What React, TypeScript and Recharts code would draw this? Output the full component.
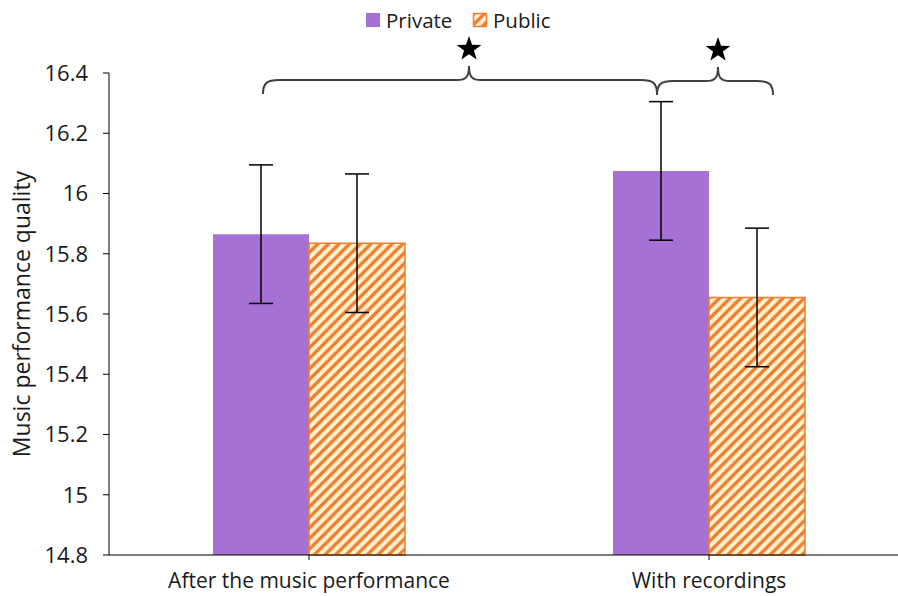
import React from "react";
import { BarChart, Bar, XAxis, YAxis, ErrorBar } from "recharts";

const categories = ["After the music performance", "With recordings"];
const privateMeans = [15.865, 16.075];
const publicMeans = [15.835, 15.655];
const privateErr = [0.23, 0.23];
const publicErr = [0.23, 0.23];
const yTicks = [14.8, 15, 15.2, 15.4, 15.6, 15.8, 16, 16.2, 16.4];

const data = categories.map((name, i) => ({
  name,
  private: privateMeans[i],
  privateErr: privateErr[i],
  public: publicMeans[i],
  publicErr: publicErr[i],
}));

const FONT = "'Open Sans', Lato, sans-serif";
const INK = "#1a1a1a";
const PURPLE = "#A571D4";
const ORANGE = "#ED7D31";
const CREAM = "#FFF2CC";

// five-pointed star around a centre point
const starPoints = (cx: number, cy: number, R: number, r: number) => {
  const pts: string[] = [];
  for (let k = 0; k < 10; k++) {
    const rad = k % 2 === 0 ? R : r;
    const a = -Math.PI / 2 + (k * Math.PI) / 5;
    pts.push(`${cx + rad * Math.cos(a)},${cy + rad * Math.sin(a)}`);
  }
  return pts.join(" ");
};

// curly brace lying on its back, pointing up at xt
const bracePath = (x1: number, x2: number, xt: number, y: number) => {
  const h = 14;
  return [
    `M${x1},${y + h} C${x1},${y + 3} ${x1 + 4},${y} ${x1 + 16},${y}`,
    `L${xt - 12},${y} C${xt - 3},${y} ${xt},${y - 3} ${xt},${y - h}`,
    `M${xt},${y - h} C${xt},${y - 3} ${xt + 3},${y} ${xt + 12},${y}`,
    `L${x2 - 16},${y} C${x2 - 4},${y} ${x2},${y + 3} ${x2},${y + h}`,
  ].join(" ");
};

const Overlay = () => (
  <svg
    width={898}
    height={596}
    style={{ position: "absolute", left: 0, top: 0, pointerEvents: "none" }}
  >
    {/* legend */}
    <rect x={366} y={13} width={14} height={14} fill={PURPLE} />
    <text x={386} y={27.5} fontSize={20.5} fontFamily={FONT} fill={INK}>
      Private
    </text>
    <rect x={473.5} y={13.5} width={13} height={13} fill="url(#hatch)" stroke={ORANGE} strokeWidth={1.5} />
    <text x={493} y={27.5} fontSize={20.5} fontFamily={FONT} fill={INK}>
      Public
    </text>

    {/* significance braces */}
    <path d={bracePath(263, 657, 469, 80)} fill="none" stroke="#404040" strokeWidth={2} />
    <path d={bracePath(657, 773, 718, 81)} fill="none" stroke="#404040" strokeWidth={2} />
    <polygon points={starPoints(469, 49, 13, 5.2)} fill="#000" />
    <polygon points={starPoints(718, 50, 13, 5.2)} fill="#000" />
  </svg>
);

const App = () => (
  <div
    style={{
      position: "fixed",
      left: 0,
      top: 0,
      width: 898,
      height: 596,
      overflow: "hidden",
      background: "#fff",
    }}
  >
    <svg width={0} height={0} style={{ position: "absolute" }}>
      <defs>
        <pattern id="hatch" patternUnits="userSpaceOnUse" width={10.6} height={10.6}>
          <rect width={10.6} height={10.6} fill={CREAM} />
          <path
            d="M-2,2 L2,-2 M0,10.6 L10.6,0 M8.6,12.6 L12.6,8.6"
            stroke={ORANGE}
            strokeWidth={3.4}
          />
        </pattern>
      </defs>
    </svg>
    <BarChart
      width={920}
      height={596}
      data={data}
      margin={{ top: 73, right: 11, bottom: 0, left: 0 }}
      barGap={0}
    >
      <XAxis
        dataKey="name"
        height={41}
        stroke="#000"
        tickSize={5}
        tickMargin={13}
        tick={{ fill: INK, fontSize: 21, fontFamily: FONT }}
      />
      <YAxis
        width={109}
        domain={[14.8, 16.4]}
        ticks={yTicks}
        interval={0}
        stroke="#000"
        tickSize={6}
        tickMargin={15}
        tick={{ fill: INK, fontSize: 22, fontFamily: FONT }}
        label={{
          value: "Music performance quality",
          angle: -90,
          position: "insideLeft",
          offset: 22,
          fontSize: 23,
          fontFamily: FONT,
          fill: INK,
          style: { textAnchor: "middle" },
        }}
      />
      <Bar dataKey="private" fill={PURPLE} barSize={96} isAnimationActive={false}>
        <ErrorBar dataKey="privateErr" width={12} stroke="#000" strokeWidth={1.5} direction="y" />
      </Bar>
      <Bar
        dataKey="public"
        fill="url(#hatch)"
        stroke={ORANGE}
        strokeWidth={1.5}
        barSize={96}
        isAnimationActive={false}
      >
        <ErrorBar dataKey="publicErr" width={12} stroke="#000" strokeWidth={1.5} direction="y" />
      </Bar>
    </BarChart>
    <Overlay />
  </div>
);

export default App;
